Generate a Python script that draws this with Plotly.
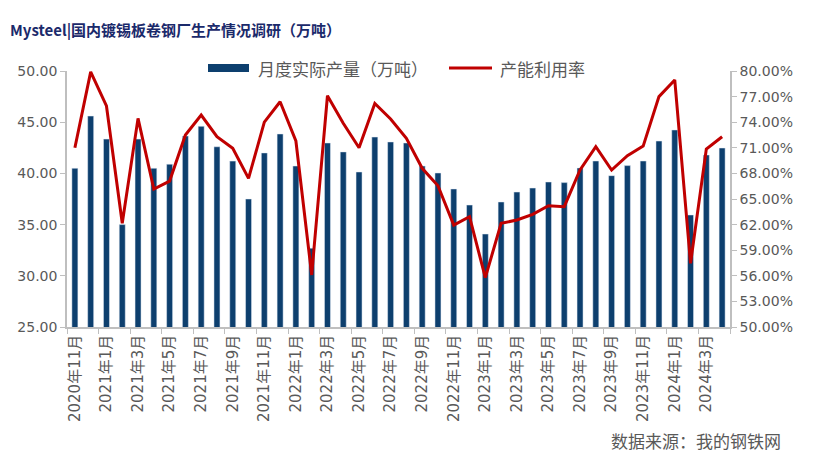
import plotly.graph_objects as go

# ---- data ----
months = ["2020年11月", "2020年12月"] + [f"2021年{m}月" for m in range(1, 13)] + \
         [f"2022年{m}月" for m in range(1, 13)] + [f"2023年{m}月" for m in range(1, 13)] + \
         [f"2024年{m}月" for m in range(1, 5)]

output_wt = [40.5, 45.6, 43.35, 35.0, 43.35, 40.5, 40.9, 43.65, 44.6, 42.6, 41.2, 37.5,
             42.0, 43.85, 40.72, 32.7, 42.97, 42.1, 40.14, 43.55, 43.07, 42.97, 40.72, 40.04,
             38.48, 36.91, 34.08, 37.21, 38.18, 38.57, 39.16, 39.1, 40.53, 41.21, 39.78, 40.76,
             41.21, 43.16, 44.24, 35.94, 41.8, 42.48]

utilization = [71.0, 79.9, 75.9, 62.15, 74.45, 66.17, 67.1, 72.5, 74.84, 72.3, 70.94, 67.42,
               74.0, 76.4, 71.8, 56.1, 77.1, 73.87, 71.0, 76.2, 74.37, 72.1, 68.6, 66.56,
               61.95, 62.93, 55.78, 62.15, 62.54, 63.2, 64.22, 64.1, 68.4, 71.13, 68.4, 70.08,
               71.2, 77.0, 78.95, 57.46, 70.86, 72.3]

bar_name = "月度实际产量（万吨）"
line_name = "产能利用率"
title_text = "Mysteel|国内镀锡板卷钢厂生产情况调研（万吨）"
source_text = "数据来源：我的钢铁网"

# ---- layout geometry (page pixel coords; page body has an 8px offset) ----
OFF = 8
W, H = 813 - OFF, 459 - OFF
L, R, T, B = 67, 730, 71, 327   # plot area in page coordinates

def px_x(p):
    return (p - L) / (R - L)

def px_y(p):
    return (B - p) / (B - T)

BAR_COLOR = "#0D3F6E"
LINE_COLOR = "#C00000"
AXIS_COLOR = "#BFBFBF"
TEXT_COLOR = "#595959"
TICK_FONT = dict(family="DejaVu Sans, Noto Sans CJK SC", size=14, color=TEXT_COLOR)
XTICK_FONT = dict(family="DejaVu Sans, Noto Sans CJK SC", size=15, color=TEXT_COLOR)

fig = go.Figure()
fig.add_trace(go.Bar(x=months, y=output_wt, name=bar_name, marker_color=BAR_COLOR,
                     width=0.38, showlegend=False))
fig.add_trace(go.Scatter(x=months, y=utilization, name=line_name, yaxis="y2", mode="lines",
                         line=dict(color=LINE_COLOR, width=3), showlegend=False))

fig.update_layout(
    width=W, height=H,
    margin=dict(l=L - OFF, r=813 - R, t=T - OFF, b=459 - B, autoexpand=False),
    paper_bgcolor="white", plot_bgcolor="white",
    showlegend=False,
    title=dict(text="<b>" + title_text + "</b>", xref="container", yref="container",
               x=(10 - OFF) / W, xanchor="left", y=1 - (31 - OFF) / H, yanchor="middle",
               font=dict(family="Noto Sans CJK SC", size=15, color="#1B2A6B")),
    xaxis=dict(type="category", tickmode="linear", tick0=0, dtick=2, tickson="boundaries",
               tickangle=-90, ticks="outside", ticklen=5, tickcolor=AXIS_COLOR,
               showline=True, linecolor=AXIS_COLOR, linewidth=1.5, showgrid=False,
               tickfont=XTICK_FONT, range=[-0.5, len(months) - 0.5], automargin=False),
    yaxis=dict(range=[25, 50], tick0=25, dtick=5, tickformat=".2f", ticks="outside", ticklen=5,
               tickcolor=AXIS_COLOR, showline=True, linecolor=AXIS_COLOR, linewidth=1.5,
               showgrid=False, zeroline=False, tickfont=TICK_FONT, automargin=False),
    yaxis2=dict(range=[50, 80], tick0=50, dtick=3, tickformat=".2f", ticksuffix="%",
                overlaying="y", side="right", ticks="outside", ticklen=5, tickcolor=AXIS_COLOR,
                showline=True, linecolor=AXIS_COLOR, linewidth=1.5, showgrid=False,
                zeroline=False, tickfont=TICK_FONT, automargin=False),
    bargap=0.6,
)

# ---- manual legend ----
leg_y = px_y(68)
fig.add_shape(type="rect", xref="paper", yref="paper",
              x0=px_x(208), x1=px_x(249), y0=px_y(72), y1=px_y(64),
              fillcolor=BAR_COLOR, line=dict(width=0))
fig.add_annotation(xref="paper", yref="paper", x=px_x(256), y=leg_y, text=bar_name,
                   showarrow=False, xanchor="left", yanchor="middle",
                   font=dict(family="Noto Sans CJK SC", size=17, color=TEXT_COLOR))
fig.add_shape(type="line", xref="paper", yref="paper",
              x0=px_x(449), x1=px_x(492), y0=leg_y, y1=leg_y,
              line=dict(color=LINE_COLOR, width=3))
fig.add_annotation(xref="paper", yref="paper", x=px_x(498), y=leg_y, text=line_name,
                   showarrow=False, xanchor="left", yanchor="middle",
                   font=dict(family="Noto Sans CJK SC", size=17, color=TEXT_COLOR))

# ---- source ----
fig.add_annotation(xref="paper", yref="paper", x=px_x(783), y=px_y(440), text=source_text,
                   showarrow=False, xanchor="right", yanchor="middle",
                   font=dict(family="Noto Sans CJK SC", size=17, color=TEXT_COLOR))

fig.write_html("out.html")
